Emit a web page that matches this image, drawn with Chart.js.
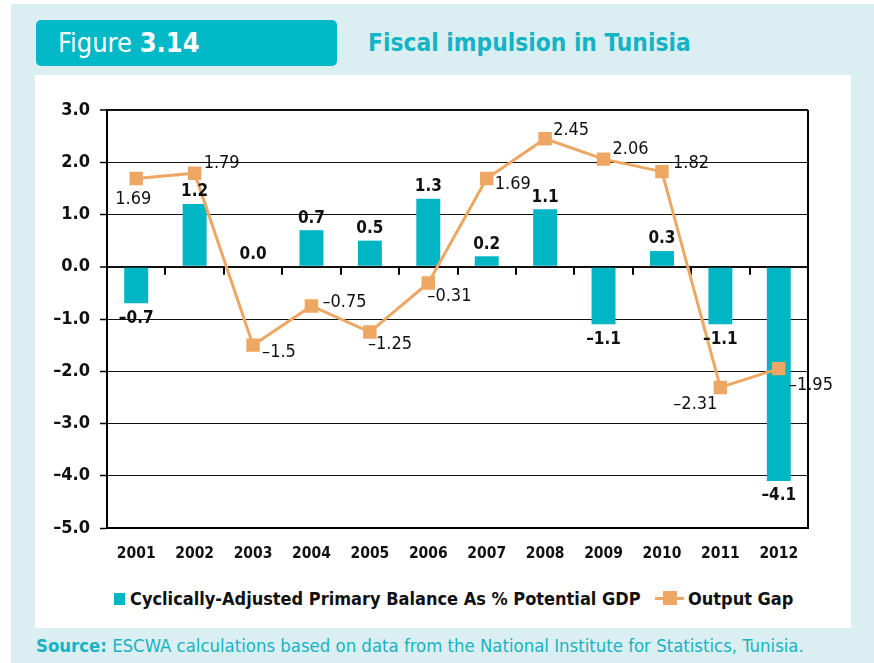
<!DOCTYPE html>
<html>
<head>
<meta charset="utf-8">
<script src="https://cdn.jsdelivr.net/npm/chart.js@4.4.1/dist/chart.umd.min.js"></script>
<style>
    body {
        margin: 0;
        width: 874px;
        height: 663px;
        background: #ffffff;
        position: relative;
        overflow: hidden;
    }
    .frame {
        position: absolute;
        left: 11px;
        top: 4px;
        width: 863px;
        height: 659px;
        background: #dbeef2;
    }
    .figure-tag {
        position: absolute;
        left: 36px;
        top: 20px;
        width: 301px;
        height: 46px;
        background: #00b8c6;
        border-radius: 5px;
        color: #ffffff;
        font-family: "DejaVu Sans Condensed", sans-serif;
        font-size: 27px;
        line-height: 46px;
        box-sizing: border-box;
        padding-left: 22px;
    }
    .figure-tag b {
        font-weight: bold;
    }
    .figure-title {
        position: absolute;
        left: 368px;
        top: 27px;
        color: #14b4c4;
        font-family: "DejaVu Sans Condensed", sans-serif;
        font-weight: bold;
        font-size: 24.3px;
        line-height: 32px;
    }
    .panel {
        position: absolute;
        left: 35px;
        top: 75px;
        width: 816px;
        height: 553px;
        background: #ffffff;
    }
    .legend {
        position: absolute;
        top: 586px;
        left: 0;
        height: 26px;
        font-family: "DejaVu Sans Condensed", sans-serif;
        font-weight: bold;
        font-size: 18px;
        line-height: 26px;
        color: #111111;
    }
    .legend .item {
        position: absolute;
        white-space: nowrap;
    }
    .swatch-bar {
        position: absolute;
        width: 11px;
        height: 12px;
        background: #00b5c4;
    }
    .swatch-line {
        position: absolute;
        width: 29px;
        height: 3px;
        background: #eea763;
    }
    .swatch-line::after {
        content: "";
        position: absolute;
        left: 8px;
        top: -6px;
        width: 14px;
        height: 14px;
        background: #eea763;
    }
    .source {
        position: absolute;
        left: 36px;
        top: 635px;
        color: #17b3c4;
        font-family: "DejaVu Sans Condensed", sans-serif;
        font-size: 18.4px;
        line-height: 22px;
        white-space: nowrap;
    }
    #fiscalChart {
        position: absolute;
        left: 0;
        top: 0;
    }
</style>
</head>
<body>
<div class="frame"></div>
<div class="figure-tag">Figure <b>3.14</b></div>
<div class="figure-title">Fiscal impulsion in Tunisia</div>
<div class="panel"></div>

<div class="legend">
    <div class="swatch-bar" style="left:114px; top:7px;"></div>
    <div class="item" style="left:130px;">Cyclically-Adjusted Primary Balance As % Potential GDP</div>
    <div class="swatch-line" style="left:655px; top:11px;"></div>
    <div class="item" style="left:688px;">Output Gap</div>
</div>

<div class="source"><b>Source:</b> ESCWA calculations based on data from the National Institute for Statistics, Tunisia.</div>

<canvas id="fiscalChart" width="874" height="663"></canvas>

<script>
// Years on the category axis
const years = ['2001', '2002', '2003', '2004', '2005', '2006', '2007', '2008', '2009', '2010', '2011', '2012'];

// Cyclically-adjusted primary balance (% of potential GDP)
const primaryBalance = [-0.7, 1.2, 0.0, 0.7, 0.5, 1.3, 0.2, 1.1, -1.1, 0.3, -1.1, -4.1];

// Output gap
const outputGap = [1.69, 1.79, -1.5, -0.75, -1.25, -0.31, 1.69, 2.45, 2.06, 1.82, -2.31, -1.95];

// Value axis range and ticks
const yMin = -5;
const yMax = 3;
const yStep = 1;

const TEAL = '#00b5c4';
const ORANGE = '#eea763';

// Where each output gap label sits next to its marker: [dx, dy, align]
const gapLabelPlacement = [
    [-3, 21, 'center'],
    [9, -10, 'left'],
    [9, 7, 'left'],
    [11, -4, 'left'],
    [-2, 12, 'left'],
    [-1, 13, 'left'],
    [8, 6, 'left'],
    [8, -8, 'left'],
    [9, -10, 'left'],
    [11, -8, 'left'],
    [-3, 17, 'right'],
    [10, 17, 'left']
];

function withDash(text) {
    return text.replace('-', '\u2013');
}

// Short tick marks hanging below the zero line, between categories
const zeroTicks = {
    id: 'zeroTicks',
    beforeDatasetsDraw(chart) {
        const { ctx, chartArea, scales } = chart;
        const y0 = scales.y.getPixelForValue(0);
        const step = (chartArea.right - chartArea.left) / years.length;
        ctx.save();
        ctx.strokeStyle = '#000';
        ctx.lineWidth = 2;
        ctx.beginPath();
        for (let i = 1; i <= years.length; i++) {
            const x = Math.round(chartArea.left + step * i);
            ctx.moveTo(x, y0);
            ctx.lineTo(x, y0 + 8);
        }
        ctx.stroke();
        // right-hand frame line
        ctx.beginPath();
        ctx.moveTo(chartArea.right, chartArea.top);
        ctx.lineTo(chartArea.right, chartArea.bottom + 1);
        ctx.stroke();
        ctx.restore();
    }
};

// Value labels for bars and line markers
const valueLabels = {
    id: 'valueLabels',
    afterDatasetsDraw(chart) {
        const { ctx } = chart;
        ctx.save();
        ctx.fillStyle = '#111';
        ctx.textBaseline = 'middle';

        const bars = chart.getDatasetMeta(0).data;
        ctx.font = 'bold 17px "DejaVu Sans Condensed"';
        ctx.textAlign = 'center';
        bars.forEach((bar, i) => {
            const v = primaryBalance[i];
            const y = v >= 0 ? bar.y - 12 : bar.y + 15;
            ctx.fillText(withDash(v.toFixed(1)), bar.x, y);
        });

        const points = chart.getDatasetMeta(1).data;
        ctx.font = '18px "DejaVu Sans Condensed"';
        points.forEach((pt, i) => {
            const [dx, dy, align] = gapLabelPlacement[i];
            ctx.textAlign = align;
            ctx.fillText(withDash(String(outputGap[i])), pt.x + dx, pt.y + dy);
        });
        ctx.restore();
    }
};

document.addEventListener('DOMContentLoaded', () => {
    const ctx = document.getElementById('fiscalChart').getContext('2d');
    new Chart(ctx, {
        data: {
            labels: years,
            datasets: [{
                type: 'bar',
                label: 'Cyclically-Adjusted Primary Balance As % Potential GDP',
                data: primaryBalance,
                backgroundColor: TEAL,
                barPercentage: 0.41,
                categoryPercentage: 1,
                order: 1
            }, {
                type: 'line',
                label: 'Output Gap',
                data: outputGap,
                borderColor: ORANGE,
                backgroundColor: ORANGE,
                borderWidth: 3,
                tension: 0,
                pointStyle: 'rect',
                pointRadius: 9.5,
                pointBorderWidth: 0,
                order: 0
            }]
        },
        options: {
            responsive: false,
            animation: false,
            devicePixelRatio: 1,
            layout: {
                padding: { top: 110, right: 66, left: 0, bottom: 0 }
            },
            plugins: {
                legend: { display: false },
                tooltip: { enabled: false }
            },
            scales: {
                x: {
                    afterFit(scale) {
                        scale.height = 135;
                    },
                    grid: { display: false, drawTicks: false },
                    border: { display: true, color: '#000', width: 2 },
                    ticks: {
                        padding: 17,
                        color: '#111',
                        font: { family: 'DejaVu Sans Condensed', weight: 'bold', size: 15.5 }
                    }
                },
                y: {
                    min: yMin,
                    max: yMax,
                    afterFit(scale) {
                        scale.width = 107;
                    },
                    grid: {
                        color: '#111',
                        lineWidth: c => (c.tick && (c.tick.value === 0 || c.tick.value === yMax)) ? 2 : 1,
                        tickColor: '#000',
                        tickLength: 7,
                        tickWidth: 1.5
                    },
                    border: { display: true, color: '#000', width: 2 },
                    ticks: {
                        stepSize: yStep,
                        padding: 10,
                        color: '#111',
                        font: { family: 'DejaVu Sans Condensed', weight: 'bold', size: 18 },
                        callback: v => withDash(Number(v).toFixed(1))
                    }
                }
            }
        },
        plugins: [zeroTicks, valueLabels]
    });
});
</script>
</body>
</html>
